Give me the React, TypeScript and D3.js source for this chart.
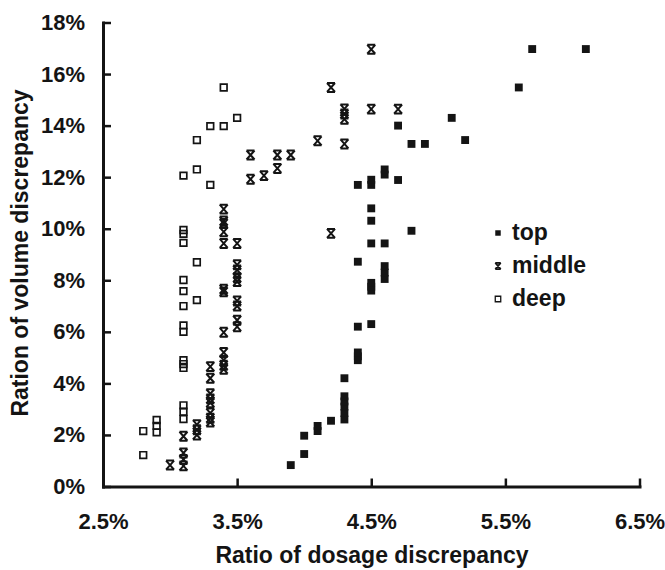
import { useEffect, useRef } from 'react';
import * as d3 from 'd3';

// [dosage %, volume %]
const topPoints: [number, number][] = [
  [3.9, 0.83], [4.0, 1.26], [4.0, 1.97], [4.1, 2.15], [4.1, 2.35], [4.2, 2.55],
  [4.3, 2.6], [4.3, 2.85], [4.3, 3.1], [4.3, 3.3], [4.3, 3.5], [4.3, 4.2],
  [4.4, 4.9], [4.4, 5.05], [4.4, 5.2], [4.4, 6.2], [4.4, 8.72], [4.4, 11.7],
  [4.5, 6.3], [4.5, 7.6], [4.5, 7.75], [4.5, 7.9], [4.5, 9.43], [4.5, 10.31],
  [4.5, 10.79], [4.5, 11.7], [4.5, 11.9],
  [4.6, 8.05], [4.6, 8.3], [4.6, 8.55], [4.6, 9.43], [4.6, 12.1], [4.6, 12.3],
  [4.7, 11.89], [4.7, 14.0], [4.8, 9.92], [4.8, 13.29], [4.9, 13.29],
  [5.1, 14.3], [5.2, 13.44], [5.6, 15.48], [5.7, 16.97], [6.1, 16.97]
];

const middlePoints: [number, number][] = [
  [3.0, 0.83], [3.1, 0.8], [3.1, 1.05], [3.1, 1.3], [3.1, 1.95],
  [3.2, 2.0], [3.2, 2.2], [3.2, 2.4],
  [3.3, 2.5], [3.3, 2.65], [3.3, 2.85], [3.3, 3.25], [3.3, 3.4], [3.3, 3.6], [3.3, 4.2], [3.3, 4.65],
  [3.4, 4.55], [3.4, 4.7], [3.4, 4.9], [3.4, 5.2], [3.4, 5.98], [3.4, 7.55], [3.4, 7.65],
  [3.4, 9.43], [3.4, 9.88], [3.4, 10.2], [3.4, 10.3], [3.4, 10.76],
  [3.5, 6.2], [3.5, 6.45], [3.5, 7.0], [3.5, 7.2], [3.5, 7.95], [3.5, 8.1], [3.5, 8.4], [3.5, 8.6], [3.5, 9.43],
  [3.6, 11.92], [3.6, 12.86], [3.7, 12.06], [3.8, 12.34], [3.8, 12.86], [3.9, 12.86],
  [4.1, 13.41], [4.2, 15.48], [4.2, 9.82],
  [4.3, 14.65], [4.3, 14.45], [4.3, 14.25], [4.3, 13.29],
  [4.5, 16.96], [4.5, 14.64], [4.7, 14.64]
];

const deepPoints: [number, number][] = [
  [2.8, 1.22], [2.8, 2.15], [2.9, 2.1], [2.9, 2.35], [2.9, 2.58],
  [3.1, 2.62], [3.1, 2.9], [3.1, 3.15], [3.1, 4.6], [3.1, 4.75], [3.1, 4.9],
  [3.1, 6.0], [3.1, 6.25], [3.1, 7.0], [3.1, 7.58], [3.1, 8.01],
  [3.1, 9.45], [3.1, 9.8], [3.1, 9.95], [3.1, 12.06],
  [3.2, 7.23], [3.2, 8.7], [3.2, 12.3], [3.2, 13.44],
  [3.3, 11.7], [3.3, 13.98], [3.4, 13.98], [3.4, 15.48], [3.5, 14.3]
];

const xTicks = [2.5, 3.5, 4.5, 5.5, 6.5];
const yTicks = [0, 2, 4, 6, 8, 10, 12, 14, 16, 18];
const legendLabels = ['top', 'middle', 'deep'];

const FONT = '"Liberation Sans", Arial, sans-serif';
const INK = '#141414';

function hourglass(s: number) {
  const w = s / 2;
  const h = s * 0.56;
  return `M${-w},${-h}H${w}M${-w},${h}H${w}M${-w},${-h}L${w},${h}M${w},${-h}L${-w},${h}`;
}

export default function App() {
  const svgRef = useRef<SVGSVGElement | null>(null);

  useEffect(() => {
    const svg = svgRef.current;
    if (!svg) return;

    const width = 665;
    const height = 570;
    const margin = { top: 22.5, right: 25.5, bottom: 83.5, left: 103 };

    const x = d3.scaleLinear().domain([2.5, 6.5]).range([margin.left, width - margin.right]);
    const y = d3.scaleLinear().domain([0, 18]).range([height - margin.bottom, margin.top]);

    const root = d3.select(svg);
    root.selectAll('*').remove();
    root.attr('viewBox', `0 0 ${width} ${height}`);

    root.append('rect').attr('width', width).attr('height', height).attr('fill', '#fff');

    root
      .append('g')
      .attr('transform', `translate(0,${y(0)})`)
      .call(
        d3
          .axisBottom(x)
          .tickValues(xTicks)
          .tickSizeInner(-8)
          .tickSizeOuter(0)
          .tickPadding(27)
          .tickFormat((d) => `${d3.format('.1f')(d as number)}%`)
      )
      .call((g) => g.selectAll('text').attr('fill', INK).attr('font-size', 22).attr('font-weight', 'bold'))
      .call((g) => g.selectAll('line').attr('stroke', INK).attr('stroke-width', 2.5))
      .call((g) => g.select('.domain').attr('stroke', INK).attr('stroke-width', 3).attr('stroke-linecap', 'square'));

    root
      .append('g')
      .attr('transform', `translate(${x(2.5)},0)`)
      .call(
        d3
          .axisLeft(y)
          .tickValues(yTicks)
          .tickSizeInner(-8)
          .tickSizeOuter(0)
          .tickPadding(18)
          .tickFormat((d) => `${d}%`)
      )
      .call((g) => g.selectAll('text').attr('fill', INK).attr('font-size', 22).attr('font-weight', 'bold'))
      .call((g) => g.selectAll('line').attr('stroke', INK).attr('stroke-width', 2.5))
      .call((g) => g.select('.domain').attr('stroke', INK).attr('stroke-width', 3).attr('stroke-linecap', 'square'));

    root.selectAll('g').attr('font-family', FONT);

    const square = d3.symbol().type(d3.symbolSquare);

    // deep: hollow squares
    root
      .append('g')
      .selectAll('path')
      .data(deepPoints)
      .join('path')
      .attr('transform', (d) => `translate(${x(d[0])},${y(d[1])})`)
      .attr('d', square.size(44)())
      .attr('fill', 'none')
      .attr('stroke', INK)
      .attr('stroke-width', 1.7);

    // middle: hourglass crosses
    root
      .append('g')
      .selectAll('path')
      .data(middlePoints)
      .join('path')
      .attr('transform', (d) => `translate(${x(d[0])},${y(d[1])})`)
      .attr('d', hourglass(8))
      .attr('fill', 'none')
      .attr('stroke', INK)
      .attr('stroke-width', 2);

    // top: filled squares
    root
      .append('g')
      .selectAll('path')
      .data(topPoints)
      .join('path')
      .attr('transform', (d) => `translate(${x(d[0])},${y(d[1])})`)
      .attr('d', square.size(62)())
      .attr('fill', INK);

    // legend
    const legend = root.append('g').attr('transform', 'translate(498,233)');
    legendLabels.forEach((label, i) => {
      const row = legend.append('g').attr('transform', `translate(0,${i * 33})`);
      if (label === 'top') {
        row.append('path').attr('d', square.size(30)()).attr('fill', INK);
      } else if (label === 'middle') {
        row.append('path').attr('d', hourglass(5.5)).attr('fill', 'none').attr('stroke', INK).attr('stroke-width', 1.7);
      } else {
        row.append('path').attr('d', square.size(30)()).attr('fill', 'none').attr('stroke', INK).attr('stroke-width', 1.3);
      }
      row
        .append('text')
        .attr('x', 14)
        .attr('y', 7)
        .attr('fill', INK)
        .attr('font-size', 23)
        .attr('font-weight', 'bold')
        .attr('font-family', FONT)
        .text(label);
    });

    // axis titles
    root
      .append('text')
      .attr('x', 372)
      .attr('y', 563)
      .attr('text-anchor', 'middle')
      .attr('fill', INK)
      .attr('font-size', 23)
      .attr('font-weight', 'bold')
      .attr('font-family', FONT)
      .text('Ratio of dosage discrepancy');

    root
      .append('text')
      .attr('transform', 'translate(28,253) rotate(-90)')
      .attr('text-anchor', 'middle')
      .attr('fill', INK)
      .attr('font-size', 23)
      .attr('font-weight', 'bold')
      .attr('font-family', FONT)
      .text('Ration of volume discrepancy');
  }, []);

  return (
    <svg
      ref={svgRef}
      width={665}
      height={570}
      style={{ position: 'absolute', left: 0, top: 0, display: 'block' }}
    />
  );
}
